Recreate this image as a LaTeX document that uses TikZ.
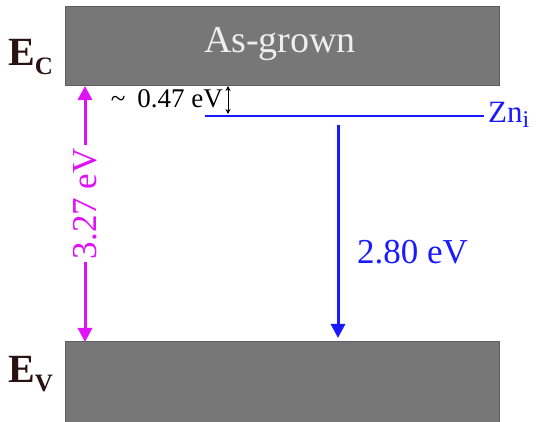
\documentclass[tikz,border=0pt]{standalone}
\usepackage{fontspec}
\setmainfont{Liberation Serif}
\usetikzlibrary{arrows.meta}
\definecolor{bandgray}{HTML}{777777}
\definecolor{bandedge}{HTML}{5E5E5E}
\definecolor{gapviolet}{HTML}{E010F8}
\definecolor{levelblue}{HTML}{1A1AFF}
\definecolor{labeldark}{HTML}{2A1212}
\definecolor{bandtext}{HTML}{EEEEEE}
\newcommand{\bandsub}[1]{\raisebox{-9pt}{\fontsize{25}{25}\selectfont\bfseries #1}}
\begin{document}
\begin{tikzpicture}[x=1pt,y=-1pt,
  band/.style={draw=bandedge, fill=bandgray, line width=1pt, minimum width=434pt, inner sep=0pt, outer sep=0pt},
  edgelabel/.style={anchor=base west, inner sep=0pt, text=labeldark, font=\fontsize{40}{44}\selectfont\bfseries},
  bigarrow/.style={line width=3pt, -{Triangle[width=14pt,length=14pt]}},
]
\useasboundingbox (0,0) rectangle (539,422);
% bands
\node[band, minimum height=79pt] (cb) at (282,46.5) {};
\node[text=bandtext, font=\fontsize{38}{40}\selectfont] (asg) at (280,44) {As-grown};
\node[band, minimum height=84pt] (vb) at (282,384) {};
% band edge labels
\node[edgelabel] (ec) at (8,66) {E\bandsub{C}};
\node[edgelabel] (ev) at (8,383) {E\bandsub{V}};
% Zn_i level
\coordinate (znL) at (205,116);
\node[anchor=base west, text=levelblue, inner sep=0pt, font=\fontsize{31}{32}\selectfont] (zn) at (488,123) {Zn\raisebox{-5pt}{\fontsize{24}{24}\selectfont i}};
\coordinate (znR) at (484,116);
\draw[levelblue, line width=2pt] (znL) -- (znR);
% 2.80 eV transition
\coordinate (bt) at (338,125);
\draw[levelblue, bigarrow, shorten >=4pt] (bt) -- (bt |- vb.north);
\node[anchor=west, text=levelblue, font=\fontsize{35}{38}\selectfont, inner sep=0pt] (l280) at (357,252) {2.80 eV};
% band gap
\coordinate (gx) at (85,0);
\draw[gapviolet, line width=3pt, {Triangle[width=14pt,length=14pt]}-{Triangle[width=14pt,length=14pt]}]
  (cb.south -| gx) -- node[pos=0.46, rotate=90, fill=white, text=gapviolet, inner sep=3pt, font=\fontsize{35}{38}\selectfont] (l327) {3.27 eV} (vb.north -| gx);
% 0.47 eV
\coordinate (sx) at (228,0);
\coordinate (sb) at (228,114);
\draw[line width=0.8pt, {Stealth[length=5pt,width=5pt]}-{Stealth[length=5pt,width=5pt]}] (cb.south -| sx) -- (sb);
\node[anchor=base east, inner sep=0pt, font=\fontsize{27}{28}\selectfont] (l047) at (223,108) {\textasciitilde\hspace{5pt} 0.47 eV};
\end{tikzpicture}
\end{document}
